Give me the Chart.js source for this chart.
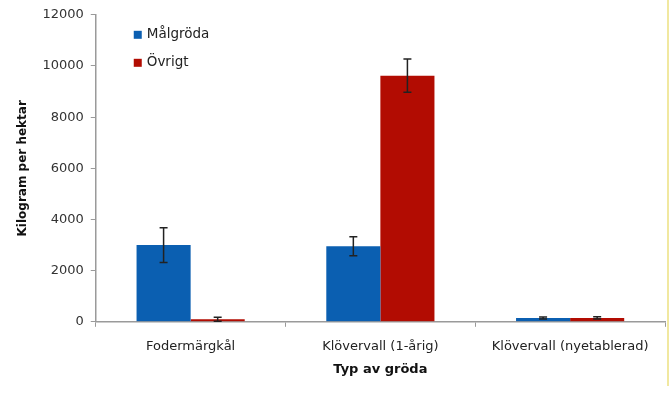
<!DOCTYPE html>
<html>
<head>
<meta charset="utf-8">
<script src="https://cdn.jsdelivr.net/npm/chart.js@4.4.1/dist/chart.umd.min.js"></script>
<style>
  html, body { margin: 0; padding: 0; background: #fff; }
  #wrap { position: relative; width: 670px; height: 403px; }
  #edge { position: absolute; left: 667px; top: 0; width: 2px; height: 386px; background: #f1e8a0; }
</style>
</head>
<body>
<div id="wrap">
  <canvas id="c" width="670" height="403"></canvas>
  <div id="edge"></div>
</div>
<script>
// Crop types and yields (kg per hektar) with standard errors
const categories = ['Fodermärgkål', 'Klövervall (1-årig)', 'Klövervall (nyetablerad)'];
const malgroda = [3000, 2950, 150];
const malgrodaErr = [680, 370, 40];
const ovrigt = [100, 9620, 150];
const ovrigtErr = [80, 650, 45];
const yTicks = [0, 2000, 4000, 6000, 8000, 10000, 12000];

const FONT = '"DejaVu Sans", Verdana, sans-serif';

// Draws error whiskers on top of each bar using the chart's own scales
const errorBars = {
  id: 'errorBars',
  afterDatasetsDraw(chart) {
    const ctx = chart.ctx;
    const y = chart.scales.y;
    chart.data.datasets.forEach((ds, di) => {
      const meta = chart.getDatasetMeta(di);
      meta.data.forEach((bar, i) => {
        const v = ds.data[i], e = ds.errors[i];
        const yTop = y.getPixelForValue(v + e);
        const yBot = y.getPixelForValue(Math.max(0, v - e));
        ctx.save();
        ctx.strokeStyle = '#222';
        ctx.lineWidth = 1.5;
        ctx.beginPath();
        ctx.moveTo(bar.x, yTop); ctx.lineTo(bar.x, yBot);
        ctx.moveTo(bar.x - 4, yTop); ctx.lineTo(bar.x + 4, yTop);
        ctx.moveTo(bar.x - 4, yBot); ctx.lineTo(bar.x + 4, yBot);
        ctx.stroke();
        ctx.restore();
      });
    });
  }
};

// Legend drawn inside the plot area, top-left
const innerLegend = {
  id: 'innerLegend',
  afterDraw(chart) {
    const ctx = chart.ctx;
    const x0 = chart.chartArea.left + 38;
    let y0 = chart.chartArea.top + 20;
    ctx.save();
    ctx.font = '13.5px ' + FONT;
    ctx.textBaseline = 'middle';
    chart.data.datasets.forEach(ds => {
      ctx.fillStyle = ds.backgroundColor;
      ctx.fillRect(x0, y0 - 4, 8, 8);
      ctx.fillStyle = '#222';
      ctx.fillText(ds.label, x0 + 13, y0);
      y0 += 28;
    });
    ctx.restore();
  }
};

new Chart(document.getElementById('c'), {
  type: 'bar',
  data: {
    labels: categories,
    datasets: [
      { label: 'Målgröda', data: malgroda, errors: malgrodaErr, backgroundColor: '#0b5fb1' },
      { label: 'Övrigt', data: ovrigt, errors: ovrigtErr, backgroundColor: '#b20c02' }
    ]
  },
  options: {
    responsive: false,
    animation: false,
    layout: { padding: { top: 7, right: 5, left: 16, bottom: 26 } },
    plugins: { legend: { display: false }, tooltip: { enabled: false } },
    datasets: { bar: { categoryPercentage: 0.57, barPercentage: 1.0 } },
    scales: {
      x: {
        grid: { drawOnChartArea: false, color: '#9a9a9a', tickLength: 5, offset: true },
        border: { color: '#9a9a9a', width: 1.5 },
        ticks: { color: '#222', font: { family: FONT, size: 13 }, padding: 12, maxRotation: 0 },
        title: { display: true, text: 'Typ av gröda', color: '#111', font: { family: FONT, size: 13, weight: 'bold' }, padding: { top: -5, bottom: 0 } }
      },
      y: {
        min: 0, max: 12000,
        afterBuildTicks(scale) { scale.ticks = yTicks.map(v => ({ value: v })); },
        grid: { drawOnChartArea: false, color: '#9a9a9a', tickLength: 5 },
        border: { color: '#9a9a9a', width: 1.5 },
        ticks: { color: '#333', font: { family: FONT, size: 13 }, padding: 7, callback: v => String(v) },
        title: { display: true, text: 'Kilogram per hektar', color: '#111', font: { family: FONT, size: 12, weight: 'bold' }, padding: { top: 0, bottom: 5 } }
      }
    }
  },
  plugins: [errorBars, innerLegend]
});
</script>
</body>
</html>
